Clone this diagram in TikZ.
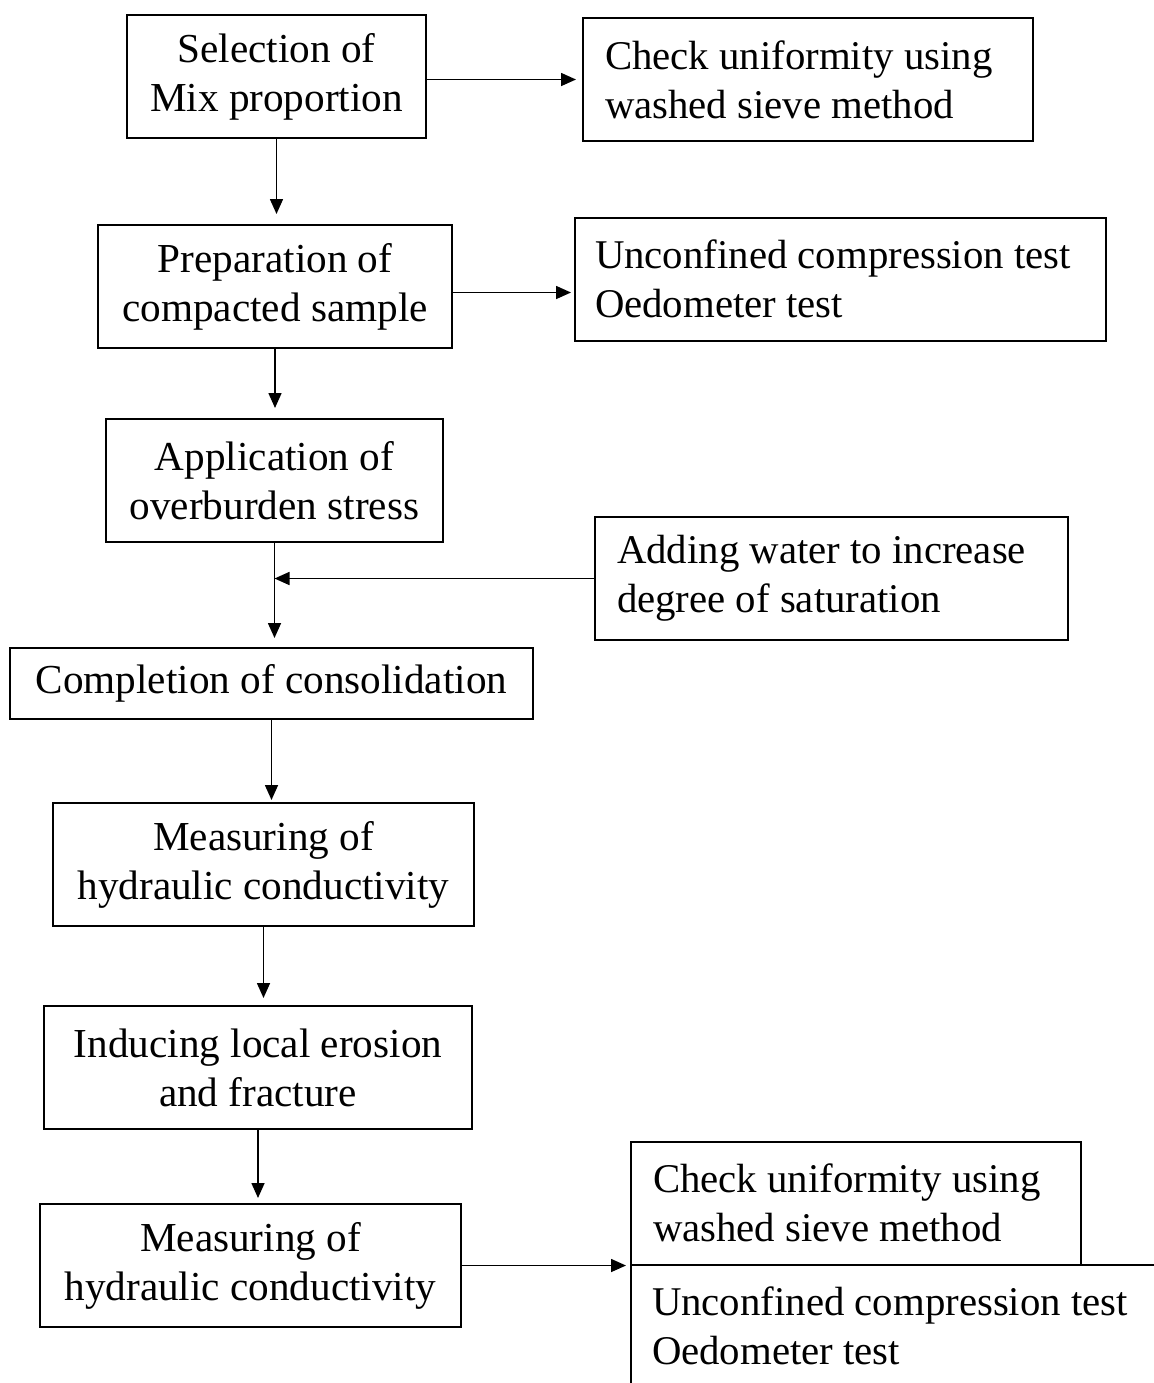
\documentclass[tikz,border=0pt]{standalone}
\usepackage{fontspec}
\setmainfont{Liberation Serif}
\usepackage{tikz}
\usetikzlibrary{arrows.meta}

\begin{document}
\begin{tikzpicture}[x=0.5pt, y=-0.5pt,
    stage/.style={draw, line width=1pt, align=center, inner sep=0pt,
        font=\fontsize{20.6pt}{24.5pt}\selectfont},
    test/.style={draw, line width=1pt, align=flush left, inner ysep=0pt,
        minimum height=61.5pt, font=\fontsize{20.4pt}{24.5pt}\selectfont},
    flow/.style={line width=0.8pt, -{Triangle[length=7.5pt, width=6.5pt]}}]
    \useasboundingbox (0, 0) rectangle (1154, 1383);
    \clip (0, 0) rectangle (1154, 1383);

    \node[stage, minimum width=149.5pt, minimum height=61.5pt] (sel) at (276.5, 76.5) {Selection of\\Mix proportion};
    \node[stage, minimum width=177pt, minimum height=61.5pt] (prep) at (275, 286.5) {Preparation of\\compacted sample};
    \node[stage, minimum width=168.5pt, minimum height=61.5pt] (app) at (274.5, 480.5) {Application of\\overburden stress};
    \node[stage, minimum width=261.5pt, minimum height=35.5pt] (comp) at (271.5, 683.5) {Completion of consolidation};
    \node[stage, minimum width=210.5pt, minimum height=61.5pt] (meas1) at (263.5, 864.5) {Measuring of\\hydraulic conductivity};
    \node[stage, minimum width=214pt, minimum height=61.5pt] (ind) at (258, 1067.5) {Inducing local erosion\\and fracture};
    \node[stage, minimum width=210.5pt, minimum height=61.5pt] (meas2) at (250.5, 1265.5) {Measuring of\\hydraulic conductivity};

    \node[test, inner xsep=11pt, text width=203pt] (chk1) at (808, 79.5) {Check uniformity using\\washed sieve method};
    \node[test, inner xsep=10pt, text width=245.5pt] (ucs1) at (840.5, 279) {Unconfined compression test\\Oedometer test};
    \node[test, inner xsep=11pt, text width=214.5pt] (add) at (831.5, 578.5) {Adding water to increase\\degree of saturation};
    \node[test, inner xsep=11pt, text width=203pt] (chk2) at (856, 1203) {Check uniformity using\\washed sieve method};
    \node[test, inner xsep=10.5pt, text width=259pt] (ucs2) at (911, 1326) {Unconfined compression test\\Oedometer test};

    \draw[flow] (chk1.west -| sel.east) -- ([xshift=-3pt]chk1.west);
    \draw[flow] ([yshift=-3pt]prep.east) -- ([yshift=-3pt, xshift=-1.5pt]prep.east -| ucs1.west);
    \draw[flow] (meas2.east) -- ([xshift=-2pt]meas2.east -| chk2.south west);

    \draw[flow] (sel.south) -- ([yshift=5pt]sel.south |- prep.north);
    \draw[flow] (prep.south) -- ([yshift=5pt]prep.south |- app.north);
    \draw[flow] (app.south) -- ([yshift=4.5pt]app.south |- comp.north);
    \draw[flow] (add.west) -- (add.west -| app.south);
    \draw[flow] (comp.south) -- ([yshift=1pt]comp.south |- meas1.north);
    \draw[flow] (meas1.south) -- ([yshift=3.5pt]meas1.south |- ind.north);
    \draw[flow] (ind.south) -- ([yshift=2.5pt]ind.south |- meas2.north);
\end{tikzpicture}
\end{document}
